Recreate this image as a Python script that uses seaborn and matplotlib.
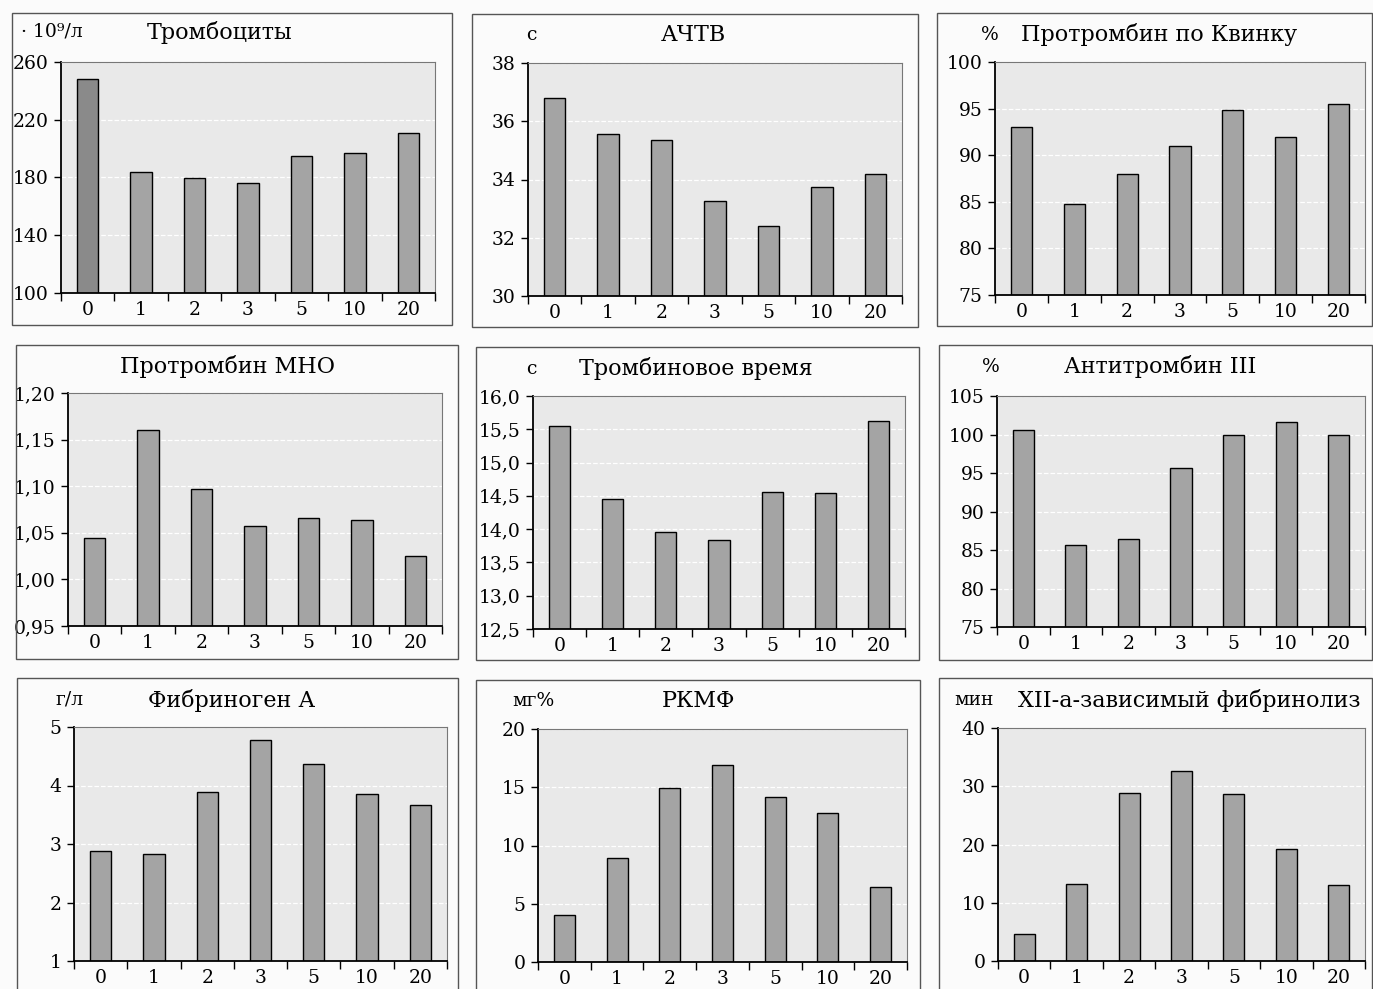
import numpy as np
import pandas as pd
import seaborn as sns
import matplotlib.pyplot as plt
from matplotlib.patches import Rectangle
from matplotlib.ticker import FixedLocator, FuncFormatter

# ---- data -------------------------------------------------------------------
days = ['0', '1', '2', '3', '5', '10', '20']

platelets = [248, 183.5, 179.5, 176.5, 195, 197, 211]
aptt = [36.8, 35.57, 35.35, 33.27, 32.42, 33.75, 34.18]
quick = [93.05, 84.73, 87.96, 90.97, 94.87, 92.0, 95.52]
inr = [1.044, 1.160, 1.097, 1.057, 1.066, 1.064, 1.025]
thrombin_time = [15.55, 14.46, 13.95, 13.84, 14.56, 14.55, 15.62]
antithrombin = [100.6, 85.6, 86.4, 95.7, 99.9, 101.6, 99.9]
fibrinogen = [2.88, 2.83, 3.89, 4.78, 4.37, 3.85, 3.66]
rfmc = [4.0, 8.9, 14.9, 16.9, 14.2, 12.8, 6.4]
fibrinolysis = [4.6, 13.2, 28.8, 32.7, 28.6, 19.2, 13.0]

titles = ['Тромбоциты', 'АЧТВ', 'Протромбин по Квинку',
          'Протромбин МНО', 'Тромбиновое время', 'Антитромбин III',
          'Фибриноген А', 'РКМФ', 'XII-а-зависимый фибринолиз']
units = ['· 10⁹/л', 'с', '%', '', 'с', '%', 'г/л', 'мг%', 'мин']
yticks = [[100, 140, 180, 220, 260],
          [30, 32, 34, 36, 38],
          [75, 80, 85, 90, 95, 100],
          [0.95, 1.00, 1.05, 1.10, 1.15, 1.20],
          [12.5, 13.0, 13.5, 14.0, 14.5, 15.0, 15.5, 16.0],
          [75, 80, 85, 90, 95, 100, 105],
          [1, 2, 3, 4, 5],
          [0, 5, 10, 15, 20],
          [0, 10, 20, 30, 40]]
decimals = [0, 0, 0, 2, 1, 0, 0, 0, 0]
series = [platelets, aptt, quick, inr, thrombin_time, antithrombin,
          fibrinogen, rfmc, fibrinolysis]

# ---- layout (pixels in the 1373x989 page) -----------------------------------
W, H = 1373, 989
axes_px = [(61, 62, 435, 293), (528, 63, 902, 296), (995, 62, 1365, 295),
           (68, 393, 442, 626), (533, 396, 905, 629), (997, 396, 1365, 627),
           (74, 727, 447, 961), (538, 729, 907, 962), (998, 728, 1365, 961)]
frames_px = [(12, 13, 452, 325), (472, 14, 918, 327), (937, 13, 1372, 326),
             (16, 345, 458, 659), (476, 347, 919, 660), (939, 345, 1372, 660),
             (17, 678, 458, 1000), (476, 680, 920, 1000), (939, 678, 1372, 1000)]
title_px = [(220, 32), (693, 35), (1159, 34), (228, 366), (696, 369),
            (1160, 367), (232, 700), (698, 701), (1189, 700)]
unit_px = [(52, 32), (531, 35), (990, 35), (0, 0), (531, 369), (991, 367),
           (70, 700), (533, 701), (974, 700)]

plt.rcParams['font.family'] = ['DejaVu Serif']
fig = plt.figure(figsize=(W / 100, H / 100), dpi=100)
fig.patch.set_facecolor('#fbfbfb')


def make_fmt(dec):
    return FuncFormatter(lambda v, p: f'{v:.{dec}f}'.replace('.', ','))


for i, vals in enumerate(series):
    x0, y0, x1, y1 = axes_px[i]
    ax = fig.add_axes([x0 / W, 1 - y1 / H, (x1 - x0) / W, (y1 - y0) / H])
    ax.set_facecolor('#e9e9e9')

    df = pd.DataFrame({'day': days, 'value': vals})
    sns.barplot(data=df, x='day', y='value', ax=ax, color='#a4a4a4',
                width=0.4, edgecolor='black', linewidth=1.0,
                saturation=1, errorbar=None)
    if i == 0:
        ax.patches[0].set_facecolor('#8a8a8a')

    ax.set_xlabel('')
    ax.set_ylabel('')
    ax.set_xlim(-0.5, 6.5)
    ax.set_ylim(yticks[i][0], yticks[i][-1])
    ax.set_yticks(yticks[i])
    ax.yaxis.set_major_formatter(make_fmt(decimals[i]))

    ax.set_axisbelow(True)
    ax.yaxis.grid(True, color='white', linestyle='--', linewidth=0.9)

    ax.xaxis.set_minor_locator(FixedLocator(np.arange(-0.5, 7, 1)))
    ax.tick_params(axis='x', which='major', length=0, pad=6, labelsize=13.5)
    ax.tick_params(axis='x', which='minor', length=6, width=1,
                   direction='out', color='black')
    ax.tick_params(axis='y', length=5, width=1, direction='out', pad=4,
                   labelsize=13.5)

    for s in ['left', 'bottom']:
        ax.spines[s].set_color('black')
        ax.spines[s].set_linewidth(1.3)
    for s in ['top', 'right']:
        ax.spines[s].set_color('#777777')
        ax.spines[s].set_linewidth(0.8)

    fx0, fy0, fx1, fy1 = frames_px[i]
    fig.add_artist(Rectangle((fx0 / W, 1 - fy1 / H), (fx1 - fx0) / W,
                             (fy1 - fy0) / H, transform=fig.transFigure,
                             fill=False, edgecolor='#555555', linewidth=1.0))

    tx, ty = title_px[i]
    fig.text(tx / W, 1 - ty / H, titles[i], ha='center', va='center',
             fontsize=16)
    if units[i]:
        ux, uy = unit_px[i]
        fig.text(ux / W, 1 - uy / H, units[i], ha='center', va='center',
                 fontsize=13.5)

fig.savefig('out.png', dpi=100, facecolor=fig.get_facecolor())
